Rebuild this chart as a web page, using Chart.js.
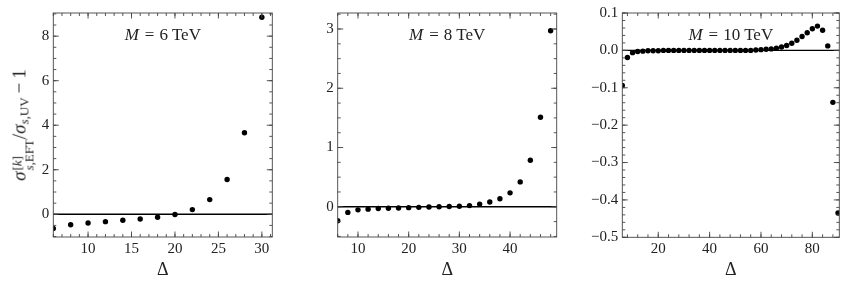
<!DOCTYPE html>
<html><head><meta charset="utf-8">
<script src="https://cdn.jsdelivr.net/npm/chart.js@4"></script>
<style>
html,body{margin:0;padding:0;background:#fff;}
body{width:847px;height:288px;position:relative;overflow:hidden;font-family:'Liberation Serif',serif;color:#222;}
.pane{position:absolute;top:0;height:288px;}
.ann{position:absolute;transform:translate(-50%,-50%);font-size:17px;white-space:nowrap;color:#222;}
.ann i{margin-right:1px;}
.eq{margin:0 5px;}
#ylab{position:absolute;white-space:nowrap;font-size:19px;color:#222;transform:translate(-50%,-50%) rotate(-90deg);}
.st{display:inline-block;vertical-align:-8px;font-size:13px;line-height:12px;text-align:left;margin-left:1px;}
.st span{display:block;}
.sb{font-size:13px;vertical-align:-3px;}
.op{margin:0 4px;}
</style></head><body>
<div class="pane" style="left:0;width:290px"><canvas id="c1" width="290" height="288"></canvas></div>
<div class="pane" style="left:290px;width:280px"><canvas id="c2" width="280" height="288"></canvas></div>
<div class="pane" style="left:570px;width:277px"><canvas id="c3" width="277" height="288"></canvas></div>
<div id="a1" class="ann"><i>M</i><span class="eq">=</span>6 TeV</div>
<div id="a2" class="ann"><i>M</i><span class="eq">=</span>8 TeV</div>
<div id="a3" class="ann"><i>M</i><span class="eq">=</span>10 TeV</div>
<div id="ylab"><i>σ</i><span class="st"><span>[<i>k</i>]</span><span><i>s</i>,EFT</span></span>/<i>σ</i><sub class="sb"><i>s</i>,UV</sub><span class="op">−</span>1</div>
<script>
// ---- data ----
const delta6 = [6, 8, 10, 12, 14, 16, 18, 20, 22, 24, 26, 28, 30];
const ratio6 = [-0.64, -0.47, -0.39, -0.33, -0.27, -0.21, -0.13, -0.01, 0.21, 0.66, 1.56, 3.66, 8.85];

const delta8 = [6, 8, 10, 12, 14, 16, 18, 20, 22, 24, 26, 28, 30, 32, 34, 36, 38, 40, 42, 44, 46, 48];
const ratio8 = [-0.235, -0.095, -0.052, -0.04, -0.03, -0.025, -0.02, -0.015, -0.01, -0.005, 0.0, 0.005,
                0.01, 0.02, 0.045, 0.08, 0.135, 0.235, 0.42, 0.785, 1.51, 2.97];

const delta10 = [6, 8, 10, 12, 14, 16, 18, 20, 22, 24, 26, 28, 30, 32, 34, 36, 38, 40, 42, 44, 46, 48,
                 50, 52, 54, 56, 58, 60, 62, 64, 66, 68, 70, 72, 74, 76, 78, 80, 82, 84, 86, 88, 90];
const ratio10 = [-0.094, -0.019, -0.006, -0.003, -0.002, -0.001, -0.001, -0.001, 0.0, 0.0, 0.0, 0.0, 0.0,
                 0.0, 0.0, 0.0, 0.0, 0.0, 0.0, 0.0, 0.0, 0.0, 0.0, 0.0, 0.0, 0.0, 0.001, 0.002, 0.003,
                 0.004, 0.006, 0.009, 0.013, 0.019, 0.027, 0.037, 0.047, 0.058, 0.065, 0.054, 0.012,
                 -0.139, -0.435];

const xTicks6 = [10, 15, 20, 25, 30];
const yTicks6 = [0, 2, 4, 6, 8];
const xTicks8 = [10, 20, 30, 40];
const yTicks8 = [0, 1, 2, 3];
const xTicks10 = [20, 40, 60, 80];
const yTicks10 = [-0.5, -0.4, -0.3, -0.2, -0.1, 0.0, 0.1];

// ---- drawing ----
const FONT = "'Liberation Serif', serif";
const INK = '#222';

const frame = {
  id: 'frame',
  afterDatasetsDraw(chart, args, o) {
    const {ctx, chartArea: a, scales} = chart;
    ctx.save();
    ctx.strokeStyle = '#444';
    ctx.lineWidth = 0.9;
    ctx.strokeRect(a.left, a.top, a.right - a.left, a.bottom - a.top);
    const MJ = 5.5, MN = 3;
    ctx.beginPath();
    const xs = scales.x, ys = scales.y;
    const major = (s) => s.ticks.map(t => t.value);
    const minors = (s, step) => {
      const out = [];
      const k0 = Math.ceil(s.min / step - 1e-9), k1 = Math.floor(s.max / step + 1e-9);
      for (let k = k0; k <= k1; k++) out.push(k * step);
      return out;
    };
    const tx = (v, len) => {
      const p = xs.getPixelForValue(v);
      if (p < a.left - 0.5 || p > a.right + 0.5) return;
      ctx.moveTo(p, a.bottom); ctx.lineTo(p, a.bottom - len);
      ctx.moveTo(p, a.top); ctx.lineTo(p, a.top + len);
    };
    const ty = (v, len) => {
      const p = ys.getPixelForValue(v);
      if (p < a.top - 0.5 || p > a.bottom + 0.5) return;
      ctx.moveTo(a.left, p); ctx.lineTo(a.left + len, p);
      ctx.moveTo(a.right, p); ctx.lineTo(a.right - len, p);
    };
    minors(xs, o.xMinor).forEach(v => tx(v, MN));
    minors(ys, o.yMinor).forEach(v => ty(v, MN));
    major(xs).forEach(v => tx(v, MJ));
    major(ys).forEach(v => ty(v, MJ));
    ctx.stroke();
    ctx.restore();
  }
};

const fmt = (dec) => (v) => {
  const s = Math.abs(v).toFixed(dec);
  return (v < -1e-9 ? '\u2212' : '') + s;
};

function makeChart(id, xs, ys, c) {
  return new Chart(document.getElementById(id), {
    type: 'scatter',
    data: {
      datasets: [
        { type: 'line', data: [{x: c.xMin, y: 0}, {x: c.xMax, y: 0}], borderColor: '#000',
          borderWidth: 1.4, pointRadius: 0, order: 2, clip: 0 },
        { type: 'scatter', data: xs.map((x, i) => ({x, y: ys[i]})), backgroundColor: '#000',
          borderWidth: 0, pointRadius: 2.7, order: 1, clip: 0 }
      ]
    },
    options: {
      responsive: false, animation: false, events: [],
      layout: { padding: { left: 0, right: c.padR, top: 12, bottom: 0 } },
      plugins: { legend: { display: false }, tooltip: { enabled: false },
                 frame: { xMinor: c.xMinor, yMinor: c.yMinor } },
      scales: {
        x: {
          type: 'linear', min: c.xMin, max: c.xMax,
          grid: { display: false, drawTicks: false }, border: { display: false },
          afterBuildTicks: s => { s.ticks = c.xTicks.map(v => ({value: v})); },
          afterFit: s => { s.height = c.xH; },
          ticks: { padding: 3, color: INK, font: { family: FONT, size: 15 }, maxRotation: 0,
                   autoSkip: false, callback: fmt(0) },
          title: { display: true, text: 'Δ', color: INK, font: { family: FONT, size: 18 },
                   padding: { top: 0, bottom: 7 } }
        },
        y: {
          type: 'linear', min: c.yMin, max: c.yMax,
          grid: { display: false, drawTicks: false }, border: { display: false },
          afterBuildTicks: s => { s.ticks = c.yTicks.map(v => ({value: v})); },
          afterFit: s => { s.width = c.yW; },
          ticks: { padding: 4, color: INK, font: { family: FONT, size: 15 }, autoSkip: false,
                   callback: fmt(c.yDec) }
        }
      }
    },
    plugins: [frame]
  });
}

const ch1 = makeChart('c1', delta6, ratio6, {
  xMin: 6, xMax: 31.2, yMin: -1.02, yMax: 9.04, xTicks: xTicks6, yTicks: yTicks6,
  xMinor: 1, yMinor: 0.5, yW: 53.3, padR: 17.7, xH: 51, yDec: 0 });
const ch2 = makeChart('c2', delta8, ratio8, {
  xMin: 6, xMax: 49.2, yMin: -0.51, yMax: 3.27, xTicks: xTicks8, yTicks: yTicks8,
  xMinor: 2, yMinor: 0.25, yW: 47.7, padR: 13.3, xH: 51, yDec: 0 });
const ch3 = makeChart('c3', delta10, ratio10, {
  xMin: 6, xMax: 90.5, yMin: -0.5, yMax: 0.1, xTicks: xTicks10, yTicks: yTicks10,
  xMinor: 4, yMinor: 0.02, yW: 52.3, padR: 7.7, xH: 50.7, yDec: 1 });

// annotations positioned from each chart's plotting area
[[ch1, 'a1', 0], [ch2, 'a2', 290], [ch3, 'a3', 570]].forEach(([ch, id, off]) => {
  const a = ch.chartArea, el = document.getElementById(id);
  el.style.left = (off + (a.left + a.right) / 2) + 'px';
  el.style.top = (a.top + 0.1 * (a.bottom - a.top)) + 'px';
});
const a1 = ch1.chartArea, yl = document.getElementById('ylab');
yl.style.left = '22px';
yl.style.top = ((a1.top + a1.bottom) / 2) + 'px';
</script>
</body></html>
